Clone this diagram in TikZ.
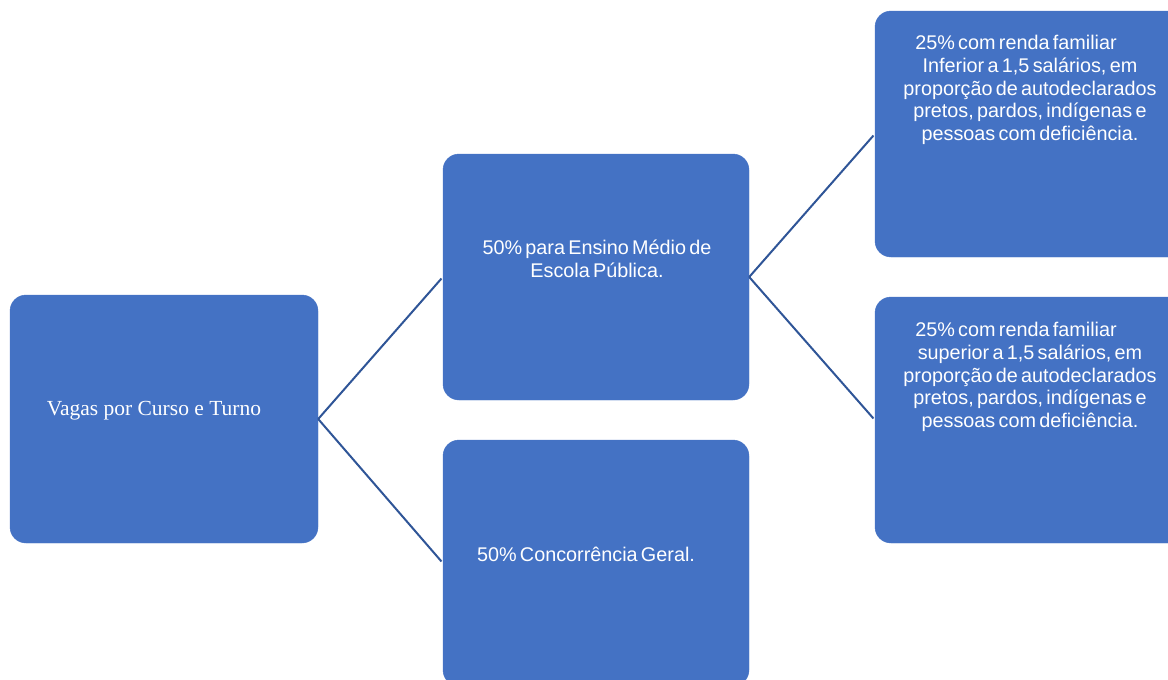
\documentclass[tikz,border=0pt]{standalone}
\usepackage{fontspec}
\setmainfont{Liberation Serif}
\newfontfamily\arialf[WordSpace=0.6]{Liberation Sans}
\definecolor{boxblue}{HTML}{4472C4}
\definecolor{linkblue}{HTML}{2F5597}
\begin{document}
\begin{tikzpicture}[x=1pt,y=-1pt,
  box/.style={fill=boxblue, draw=boxblue, rounded corners=16pt, minimum width=306pt, minimum height=246pt, inner sep=0pt},
  link/.style={draw=linkblue, line width=2pt},
  sanstext/.style={text=white, font=\arialf\fontsize{19.8}{23}\selectfont, align=center, inner sep=0pt},
  seriftext/.style={text=white, font=\fontsize{21.5}{25}\selectfont, inner sep=0pt}]
\useasboundingbox (0,0) rectangle (1168,680);
\clip (0,0) rectangle (1168,680);
% boxes
\node[box, minimum width=308pt, minimum height=248pt] (root) at (164,419) {};
\node[box] (mt) at (596,277) {};
\node[box] (mb) at (596,563) {};
\node[box, minimum width=310pt] (rt) at (1030,134) {};
\node[box, minimum width=310pt] (rb) at (1030,420) {};
% connectors
\draw[link, shorten >=2pt] (root.east) -- (mt.west);
\draw[link, shorten >=2pt] (root.east) -- (mb.west);
\draw[link, shorten >=2pt] (mt.east) -- (rt.west);
\draw[link, shorten >=2pt] (mt.east) -- (rb.west);
% texts
\node[seriftext] (roottext) at (154,411) {Vagas por Curso e Turno};
\node[sanstext] (mttext) at (597,259) {50\% para Ensino Médio de\\Escola Pública.};
\node[sanstext] (mbtext) at (586,554) {50\% Concorrência Geral.};
\node[sanstext, font=\arialf\fontsize{19.8}{22.75}\selectfont] (rttext) at (1030,90) {25\% com renda familiar\hspace*{28pt}\\Inferior a 1,5 salários, em\\proporção de autodeclarados\\pretos, pardos, indígenas e\\pessoas com deficiência.};
\node[sanstext, font=\arialf\fontsize{19.8}{22.75}\selectfont] (rbtext) at (1030,377) {25\% com renda familiar\hspace*{28pt}\\superior a 1,5 salários, em\\proporção de autodeclarados\\pretos, pardos, indígenas e\\pessoas com deficiência.};
\end{tikzpicture}
\end{document}
